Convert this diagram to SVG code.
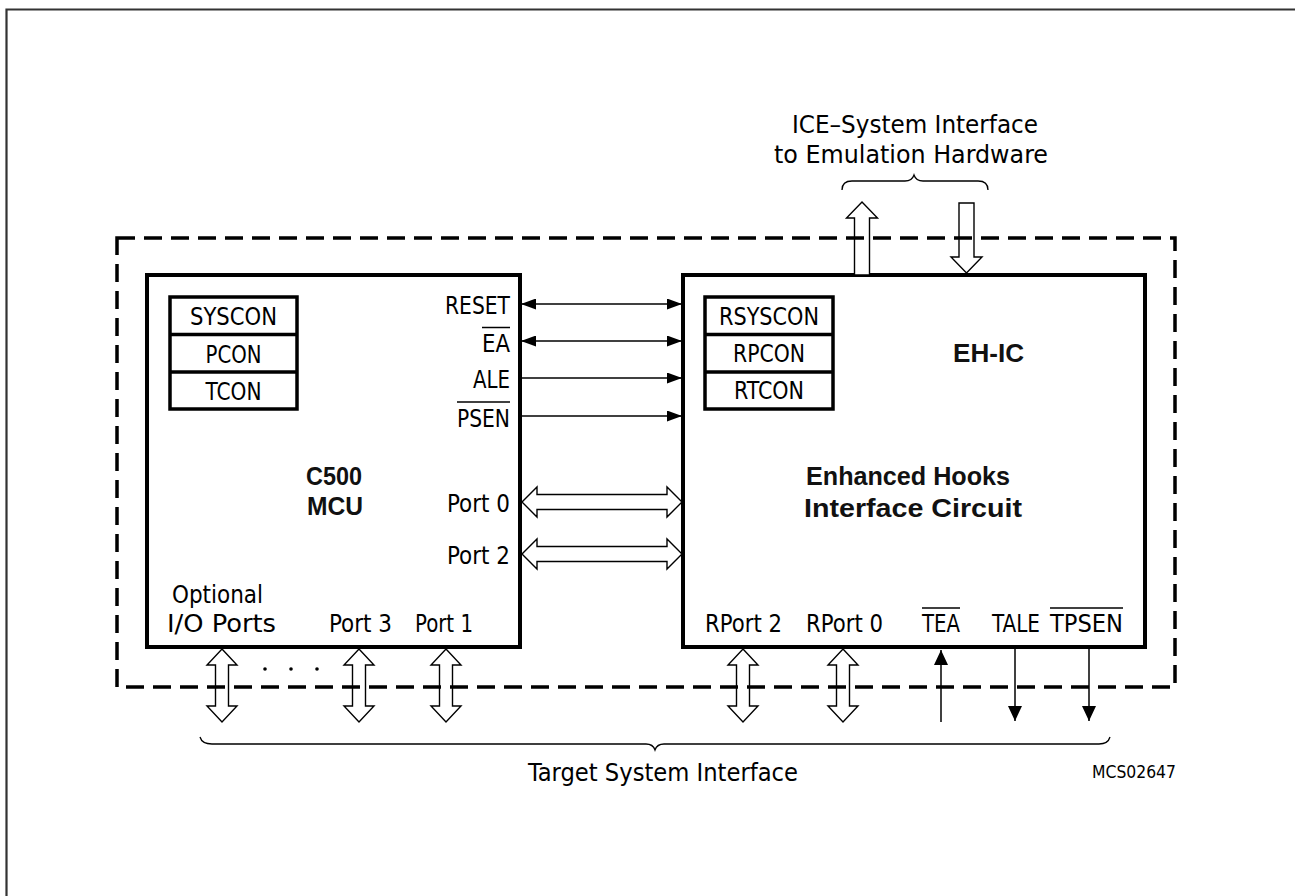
<svg xmlns="http://www.w3.org/2000/svg" width="1295" height="896" viewBox="0 0 1295 896">
<style>
  .t { font-family: "Liberation Sans Narrow", "DejaVu Sans Condensed", "Liberation Sans", sans-serif; font-size: 24.5px; fill: #000; }
  .s { font-size: 18px; }
  .b { font-family: "Liberation Sans", Arial, sans-serif; font-weight: bold; font-size: 25px; fill: #111; }
  .box { fill: #fff; stroke: #000; stroke-width: 4; }
  .reg { fill: #fff; stroke: #000; stroke-width: 3.5; }
  .ln { stroke: #000; stroke-width: 1.5; fill: none; }
  .hol { fill: #fff; stroke: #000; stroke-width: 1.4; stroke-linejoin: miter; }
  .ov { stroke: #000; stroke-width: 1.5; }
  .brace { fill: none; stroke: #000; stroke-width: 1.3; }
</style>
<defs>
  <marker id="ah" viewBox="0 0 15 11" refX="15" refY="5.5" markerWidth="15" markerHeight="11" markerUnits="userSpaceOnUse" orient="auto-start-reverse">
    <path d="M0,0 L15,5.5 L0,11 Z" fill="#000"/>
  </marker>
  <marker id="ahw" viewBox="0 0 15 14" refX="15" refY="7" markerWidth="15" markerHeight="14" markerUnits="userSpaceOnUse" orient="auto-start-reverse">
    <path d="M0,0 L15,7 L0,14 Z" fill="#000"/>
  </marker>
</defs>

<!-- outer frame -->
<path d="M6.5,896 V9.5 H1295" fill="none" stroke="#333" stroke-width="2.2"/>

<!-- ICE text and brace -->
<g id="ice-label">
  <text class="t" x="792" y="133" textLength="246" lengthAdjust="spacingAndGlyphs">ICE–System Interface</text>
  <text class="t" x="774" y="163" textLength="274" lengthAdjust="spacingAndGlyphs">to Emulation Hardware</text>
  <path class="brace" d="M842,190 Q842,181 852,181 H905 Q912,181 914,175 Q916,181 923,181 H978 Q988,181 988,190"/>
</g>

<!-- MCU -->
<g id="mcu">
  <rect class="box" x="147" y="275" width="373" height="372"/>
  <rect class="reg" x="170" y="297" width="127" height="112"/>
  <line class="reg" x1="170" y1="334.5" x2="297" y2="334.5"/>
  <line class="reg" x1="170" y1="372" x2="297" y2="372"/>
  <text class="t" x="233.5" y="325" text-anchor="middle" textLength="87" lengthAdjust="spacingAndGlyphs">SYSCON</text>
  <text class="t" x="233.5" y="363" text-anchor="middle" textLength="56" lengthAdjust="spacingAndGlyphs">PCON</text>
  <text class="t" x="233.5" y="400" text-anchor="middle" textLength="56" lengthAdjust="spacingAndGlyphs">TCON</text>
  <text class="t" x="510" y="314" text-anchor="end" textLength="65" lengthAdjust="spacingAndGlyphs">RESET</text>
  <text class="t" x="510" y="352" text-anchor="end" textLength="28" lengthAdjust="spacingAndGlyphs">EA</text>
  <line class="ov" x1="482" y1="327.5" x2="510" y2="327.5"/>
  <text class="t" x="510" y="388" text-anchor="end" textLength="37" lengthAdjust="spacingAndGlyphs">ALE</text>
  <text class="t" x="510" y="427" text-anchor="end" textLength="53" lengthAdjust="spacingAndGlyphs">PSEN</text>
  <line class="ov" x1="457" y1="402" x2="510" y2="402"/>
  <text class="b" x="334" y="485" text-anchor="middle" textLength="56" lengthAdjust="spacingAndGlyphs">C500</text>
  <text class="b" x="335" y="515" text-anchor="middle" textLength="56" lengthAdjust="spacingAndGlyphs">MCU</text>
  <text class="t" x="510" y="512" text-anchor="end" textLength="63" lengthAdjust="spacingAndGlyphs">Port 0</text>
  <text class="t" x="510" y="564" text-anchor="end" textLength="63" lengthAdjust="spacingAndGlyphs">Port 2</text>
  <text class="t" x="172" y="603" textLength="91" lengthAdjust="spacingAndGlyphs">Optional</text>
  <text class="t" x="167" y="632" textLength="109" lengthAdjust="spacingAndGlyphs">I/O Ports</text>
  <text class="t" x="329" y="632" textLength="63" lengthAdjust="spacingAndGlyphs">Port 3</text>
  <text class="t" x="415" y="632" textLength="58" lengthAdjust="spacingAndGlyphs">Port 1</text>
</g>

<!-- EH-IC -->
<g id="ehic">
  <rect class="box" x="683" y="275" width="462" height="372"/>
  <rect class="reg" x="705" y="297" width="128" height="112"/>
  <line class="reg" x1="705" y1="334.5" x2="833" y2="334.5"/>
  <line class="reg" x1="705" y1="372" x2="833" y2="372"/>
  <text class="t" x="769" y="325" text-anchor="middle" textLength="100" lengthAdjust="spacingAndGlyphs">RSYSCON</text>
  <text class="t" x="769" y="362" text-anchor="middle" textLength="72" lengthAdjust="spacingAndGlyphs">RPCON</text>
  <text class="t" x="769" y="399" text-anchor="middle" textLength="70" lengthAdjust="spacingAndGlyphs">RTCON</text>
  <text class="b" x="953" y="362" textLength="71" lengthAdjust="spacingAndGlyphs">EH-IC</text>
  <text class="b" x="908" y="485" text-anchor="middle" textLength="204" lengthAdjust="spacingAndGlyphs">Enhanced Hooks</text>
  <text class="b" x="913" y="517" text-anchor="middle" textLength="218" lengthAdjust="spacingAndGlyphs">Interface Circuit</text>
  <text class="t" x="705" y="632" textLength="77" lengthAdjust="spacingAndGlyphs">RPort 2</text>
  <text class="t" x="806" y="632" textLength="77" lengthAdjust="spacingAndGlyphs">RPort 0</text>
  <text class="t" x="922" y="632" textLength="38" lengthAdjust="spacingAndGlyphs">TEA</text>
  <line class="ov" x1="922" y1="608" x2="960" y2="608"/>
  <text class="t" x="992" y="632" textLength="48" lengthAdjust="spacingAndGlyphs">TALE</text>
  <text class="t" x="1050" y="632" textLength="73" lengthAdjust="spacingAndGlyphs">TPSEN</text>
  <line class="ov" x1="1050" y1="608" x2="1123" y2="608"/>
</g>

<!-- connectors -->
<g id="connectors">
  <line class="ln" x1="521" y1="304" x2="682" y2="304" marker-start="url(#ah)" marker-end="url(#ah)"/>
  <line class="ln" x1="521" y1="341" x2="682" y2="341" marker-start="url(#ah)" marker-end="url(#ah)"/>
  <line class="ln" x1="520" y1="378" x2="682" y2="378" marker-end="url(#ah)"/>
  <line class="ln" x1="520" y1="416" x2="682" y2="416" marker-end="url(#ah)"/>
  <!-- Port 0 / Port 2 buses -->
  <polygon class="hol" points="522,502 537,487 537,494.5 667,494.5 667,487 682,502 667,517 667,509.5 537,509.5 537,517"/>
  <polygon class="hol" points="522,554 537,539 537,546.5 667,546.5 667,539 682,554 667,569 667,561.5 537,561.5 537,569"/>
  <!-- ICE buses -->
  <polygon class="hol" points="862,202 877.5,218 869.5,218 869.5,275 854.5,275 854.5,218 846.5,218"/>
  <polygon class="hol" points="959,203 974,203 974,257 982,257 966.5,273 951,257 959,257"/>
  <!-- bottom buses -->
  <polygon class="hol" points="222,649 237,665 228.5,665 228.5,706 237,706 222,722 207,706 215.5,706 215.5,665 207,665"/>
  <polygon class="hol" points="359,649 374,665 365.5,665 365.5,706 374,706 359,722 344,706 352.5,706 352.5,665 344,665"/>
  <polygon class="hol" points="446,649 461,665 452.5,665 452.5,706 461,706 446,722 431,706 439.5,706 439.5,665 431,665"/>
  <polygon class="hol" points="743,649 758,665 749.5,665 749.5,706 758,706 743,722 728,706 736.5,706 736.5,665 728,665"/>
  <polygon class="hol" points="843,649 858,665 849.5,665 849.5,706 858,706 843,722 828,706 836.5,706 836.5,665 828,665"/>
  <!-- TEA, TALE, TPSEN -->
  <line class="ln" x1="941" y1="722" x2="941" y2="650" marker-end="url(#ahw)"/>
  <line class="ln" x1="1015" y1="649" x2="1015" y2="721" marker-end="url(#ahw)"/>
  <line class="ln" x1="1089" y1="649" x2="1089" y2="721" marker-end="url(#ahw)"/>
</g>

<!-- dashed boundary -->
<g id="boundary">
  <rect x="117" y="238" width="1058" height="449" fill="none" stroke="#000" stroke-width="3.5" stroke-dasharray="18 9"/>
  <circle cx="265" cy="669" r="1.8" fill="#000"/>
  <circle cx="291" cy="669" r="1.8" fill="#000"/>
  <circle cx="317" cy="669" r="1.8" fill="#000"/>
</g>

<!-- target system interface -->
<g id="target-label">
  <path class="brace" d="M200,737 Q202,744 212,744 H646 Q653,744 655,750 Q657,744 664,744 H1099 Q1108,744 1110,737"/>
  <text class="t" x="528" y="781" textLength="270" lengthAdjust="spacingAndGlyphs">Target System Interface</text>
  <text class="t s" x="1092" y="778" textLength="84" lengthAdjust="spacingAndGlyphs">MCS02647</text>
</g>
</svg>
